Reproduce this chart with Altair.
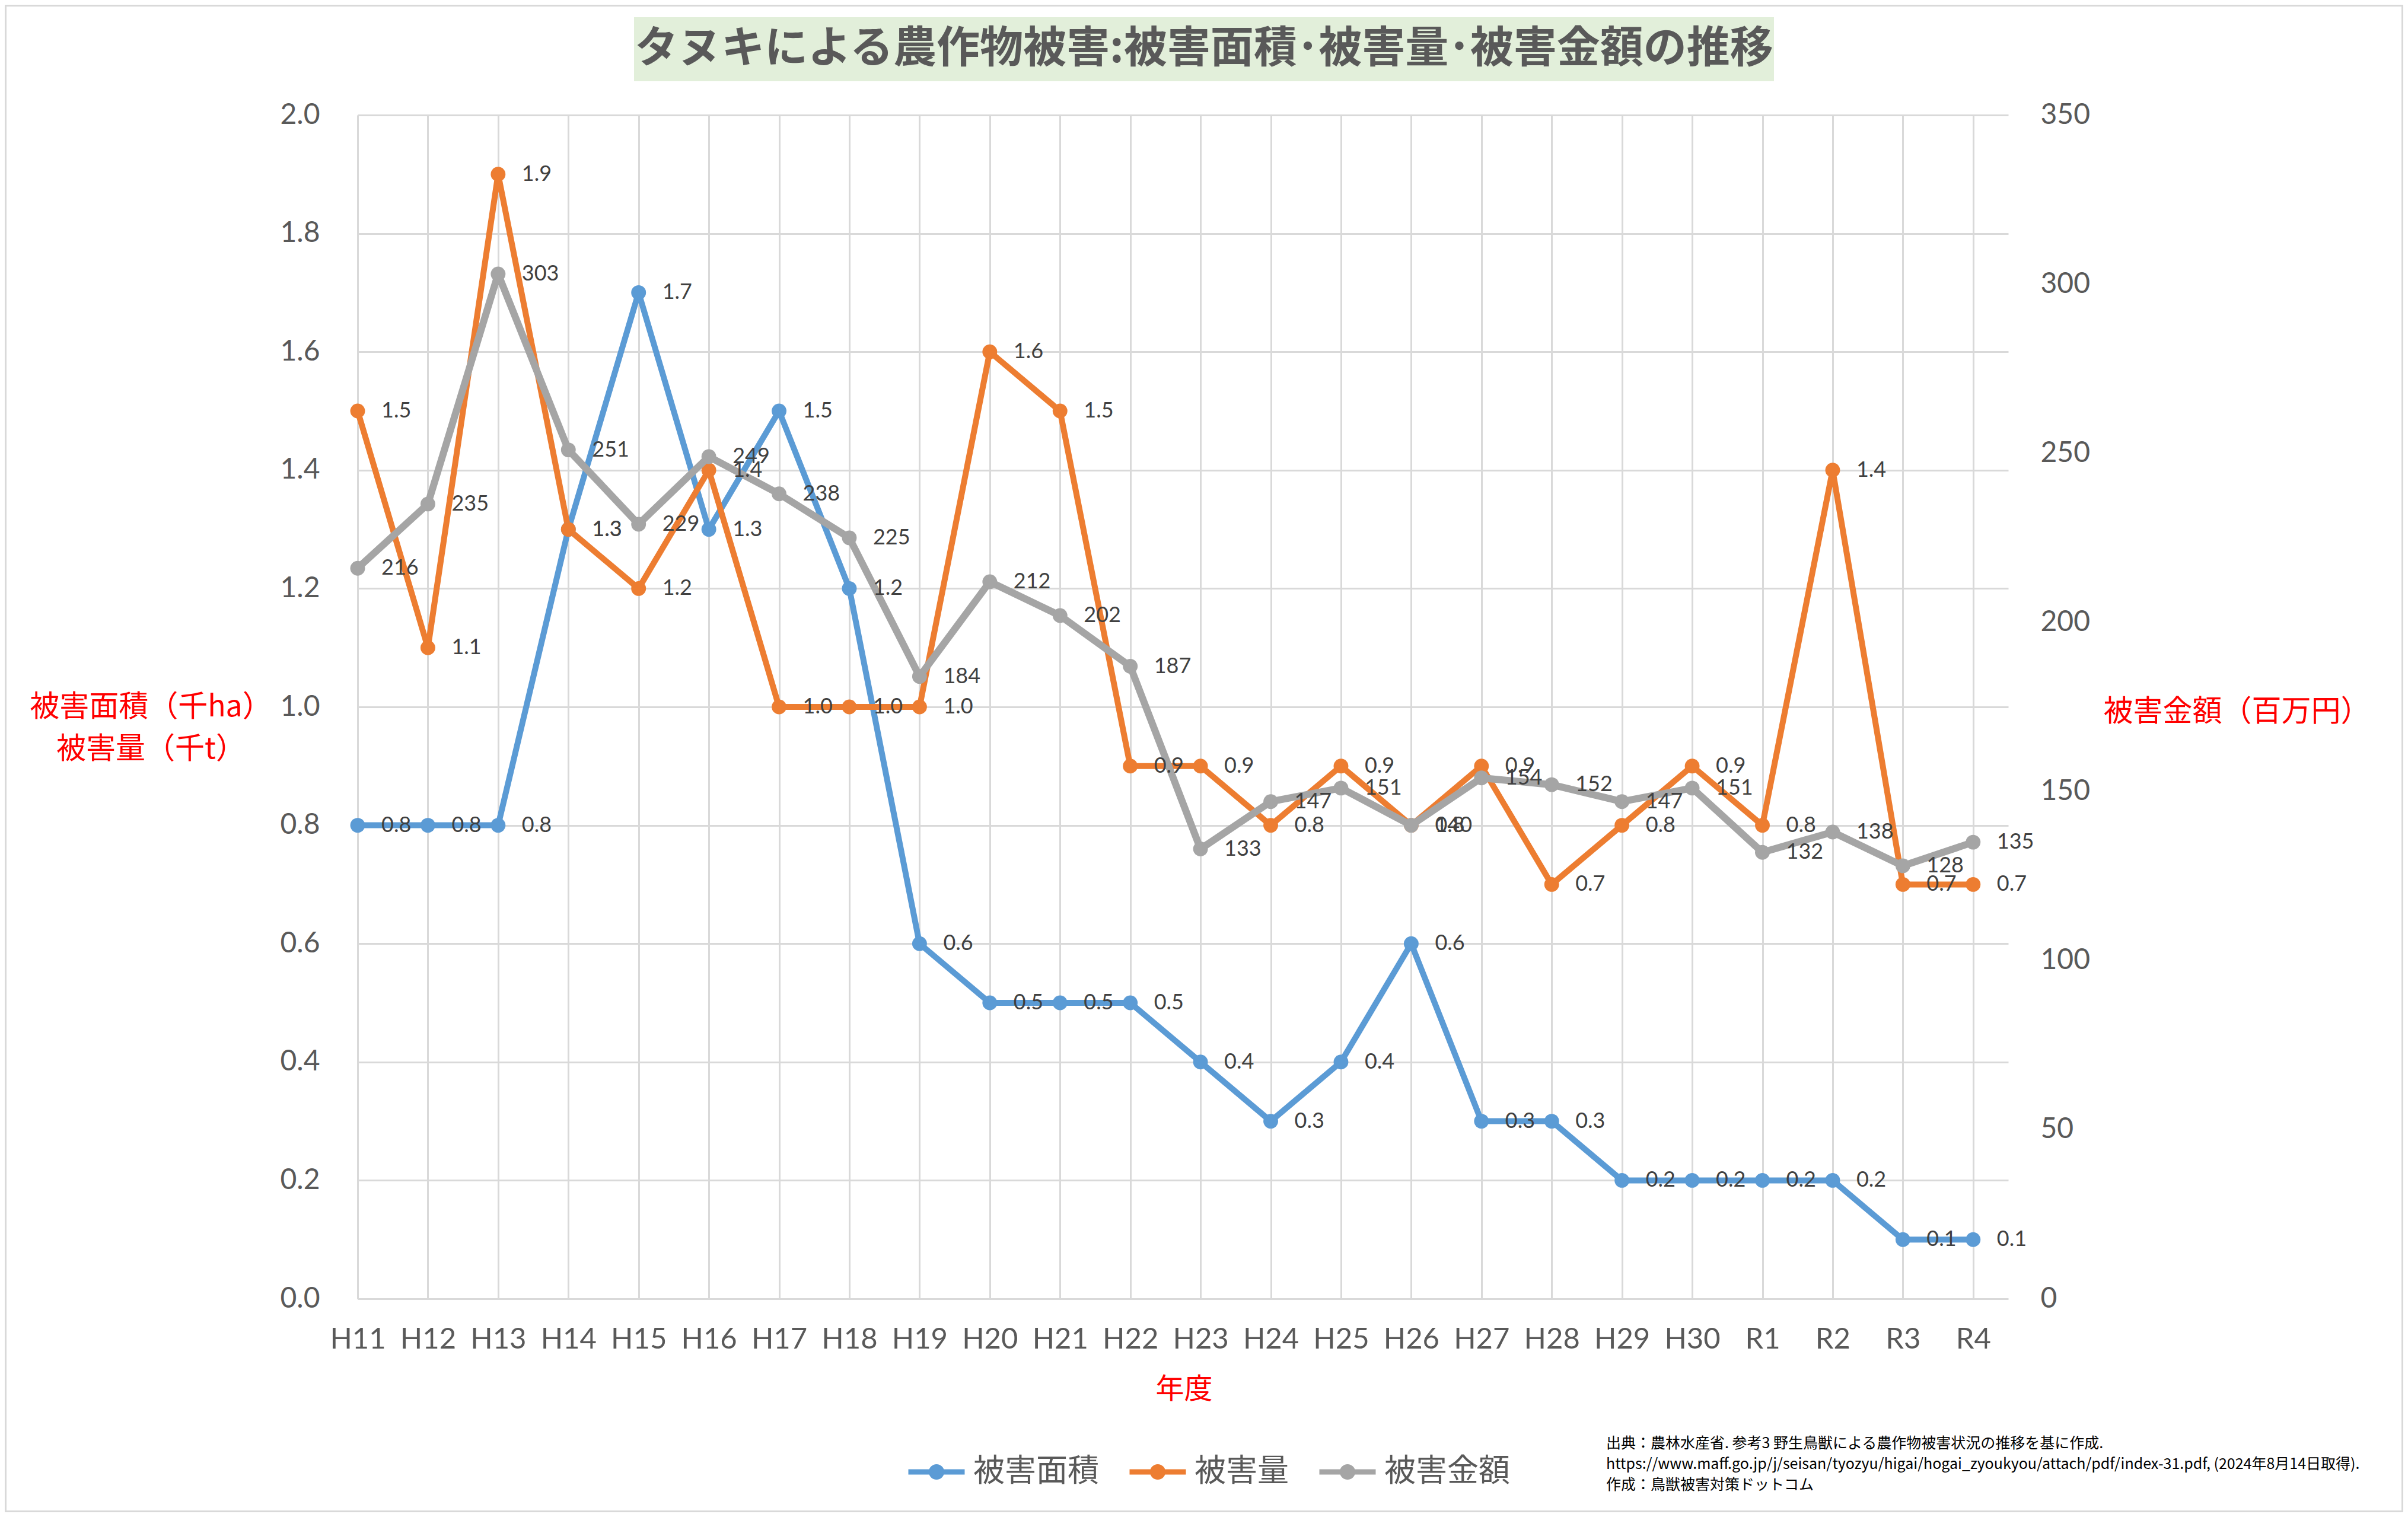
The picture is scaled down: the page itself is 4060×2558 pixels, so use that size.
import json
import altair as alt
import pandas as pd

# ---------------- data ----------------
years = ["H11", "H12", "H13", "H14", "H15", "H16", "H17", "H18", "H19", "H20",
         "H21", "H22", "H23", "H24", "H25", "H26", "H27", "H28", "H29", "H30",
         "R1", "R2", "R3", "R4"]
area = [0.8, 0.8, 0.8, 1.3, 1.7, 1.3, 1.5, 1.2, 0.6, 0.5, 0.5, 0.5,
        0.4, 0.3, 0.4, 0.6, 0.3, 0.3, 0.2, 0.2, 0.2, 0.2, 0.1, 0.1]
amount = [1.5, 1.1, 1.9, 1.3, 1.2, 1.4, 1.0, 1.0, 1.0, 1.6, 1.5, 0.9,
          0.9, 0.8, 0.9, 0.8, 0.9, 0.7, 0.8, 0.9, 0.8, 1.4, 0.7, 0.7]
money = [216, 235, 303, 251, 229, 249, 238, 225, 184, 212, 202, 187,
         133, 147, 151, 140, 154, 152, 147, 151, 132, 138, 128, 135]
series = ["被害面積", "被害量", "被害金額"]
colors = ["#5b9bd5", "#ed7d31", "#a5a5a5"]
left_ticks = [0.0, 0.2, 0.4, 0.6, 0.8, 1.0, 1.2, 1.4, 1.6, 1.8, 2.0]
right_ticks = [0, 50, 100, 150, 200, 250, 300, 350]

title_text = "タヌキによる農作物被害:被害面積･被害量･被害金額の推移"
left_title = ["被害面積（千ha）", "被害量（千t）"]
right_title = "被害金額（百万円）"
x_title = "年度"
source_lines = [
    "出典：農林水産省. 参考3 野生鳥獣による農作物被害状況の推移を基に作成.",
    "https://www.maff.go.jp/j/seisan/tyozyu/higai/hogai_zyoukyou/attach/pdf/index-31.pdf, (2024年8月14日取得).",
    "作成：鳥獣被害対策ドットコム",
]

rows_left = []
for i, y in enumerate(years):
    rows_left.append({"idx": i, "year": y, "series": series[0], "value": area[i]})
for i, y in enumerate(years):
    rows_left.append({"idx": i, "year": y, "series": series[1], "value": amount[i]})
df_left = pd.DataFrame(rows_left)
df_right = pd.DataFrame({"idx": list(range(len(years))), "year": years,
                         "series": series[2], "value": money})
df_one = pd.DataFrame({"a": [0]})

# ---------------- layout ----------------
W, H = 2783, 1996
PAD_L, PAD_T = 595, 186
TOTAL_W, TOTAL_H = 4044, 2542

CJK = "Noto Sans CJK JP"
NUM = "Lato"
GRID = "#d9d9d9"
TXT = "#595959"
RED = "#ff0000"

x_scale = alt.Scale(domain=[0, 23.5], nice=False, zero=False)
x_axis = alt.Axis(
    values=list(range(len(years))),
    labelExpr=json.dumps(years) + "[datum.value]",
    grid=True, gridColor=GRID, gridWidth=3,
    ticks=False, domain=False,
    labelFont=NUM, labelFontSize=49, labelColor=TXT, labelPadding=44,
    labelFlush=False, labelOverlap=False,
    title=x_title, titleFont=CJK, titleFontSize=48, titleFontWeight="normal",
    titleColor=RED, titleX=1393, titleY=153, titleAlign="center",
    titleBaseline="middle",
)
x_enc = alt.X("idx:Q", scale=x_scale, axis=x_axis)

y_left = alt.Y(
    "value:Q",
    scale=alt.Scale(domain=[0, 2], nice=False, zero=True),
    axis=alt.Axis(
        orient="left", values=left_ticks, format=".1f",
        grid=True, gridColor=GRID, gridWidth=3, ticks=False, domain=False,
        labelFont=NUM, labelFontSize=48, labelColor=TXT, labelPadding=64,
        title=left_title, titleFont=CJK, titleFontSize=50, titleFontWeight="normal",
        titleColor=RED, titleAngle=0, titleX=-349, titleY=998,
        titleAlign="center", titleBaseline="middle", titleLineHeight=71,
    ),
)
y_left_plain = alt.Y("value:Q", scale=alt.Scale(domain=[0, 2], nice=False), axis=None)

y_right = alt.Y(
    "value:Q",
    scale=alt.Scale(domain=[0, 350], nice=False, zero=True),
    axis=alt.Axis(
        orient="right", values=right_ticks, format="d",
        grid=False, ticks=False, domain=False,
        labelFont=NUM, labelFontSize=48, labelColor=TXT, labelPadding=54,
        title=right_title, titleFont=CJK, titleFontSize=50, titleFontWeight="normal",
        titleColor=RED, titleAngle=0, titleX=385, titleY=1006,
        titleAlign="center", titleBaseline="middle",
    ),
)
y_right_plain = alt.Y("value:Q", scale=alt.Scale(domain=[0, 350], nice=False), axis=None)

legend_symbol = ("M-1,0L1,0"
                 "M-0.18,0A0.18,0.18 0 1 1 0.18,0A0.18,0.18 0 1 1 -0.18,0"
                 "M-0.08,0A0.08,0.08 0 1 1 0.08,0A0.08,0.08 0 1 1 -0.08,0")
legend = alt.Legend(
    title=None, orient="none", legendX=924, legendY=2236, direction="horizontal",
    symbolType=legend_symbol, symbolSize=9025, symbolStrokeWidth=9,
    labelFont=CJK, labelFontSize=53, labelColor=TXT, labelOffset=10, labelLimit=500,
    columnPadding=33, padding=0,
)
color = alt.Color("series:N", scale=alt.Scale(domain=series, range=colors), legend=legend)

# ---------------- decorative layers ----------------
border = alt.Chart(df_one).mark_rect(fillOpacity=0, stroke=GRID, strokeWidth=3).encode(
    x=alt.value(-PAD_L + 1.5), x2=alt.value(TOTAL_W - PAD_L - 1.5),
    y=alt.value(-PAD_T + 1.5), y2=alt.value(TOTAL_H - PAD_T - 1.5),
)
title_box = alt.Chart(df_one).mark_rect(fill="#e2efda").encode(
    x=alt.value(466), x2=alt.value(2388), y=alt.value(-165), y2=alt.value(-57),
)
title_mark = alt.Chart(df_one).mark_text(
    font=CJK, fontSize=73, fontWeight="bold", color=TXT, align="center", baseline="middle",
).encode(x=alt.value(1427), y=alt.value(-111), text=alt.value(title_text))
source_mark = alt.Chart(df_one).mark_text(
    font=CJK, fontSize=25, color="#000000", align="left", baseline="middle", lineHeight=35,
).encode(x=alt.value(2105), y=alt.value(2240), text=alt.value(source_lines))

# ---------------- data layers ----------------
left_lines = alt.Chart(df_left).mark_line(
    strokeWidth=10, strokeJoin="round", strokeCap="round",
    point=alt.OverlayMarkDef(filled=True, size=620),
).encode(x=x_enc, y=y_left, color=color, detail="series:N")

right_lines = alt.Chart(df_right).mark_line(
    strokeWidth=12, strokeJoin="round", strokeCap="round",
    point=alt.OverlayMarkDef(filled=True, size=620),
).encode(x=x_enc, y=y_right, color=color)

left_text = alt.Chart(df_left).mark_text(
    align="left", baseline="middle", dx=40, font=NUM, fontSize=36, color="#404040",
).encode(x=x_enc, y=y_left_plain, text=alt.Text("value:Q", format=".1f"))

right_text = alt.Chart(df_right).mark_text(
    align="left", baseline="middle", dx=40, font=NUM, fontSize=36, color="#404040",
).encode(x=x_enc, y=y_right_plain, text=alt.Text("value:Q", format="d"))

chart = alt.layer(
    left_lines, right_lines, left_text, right_text,
    border, title_box, title_mark, source_mark,
).resolve_scale(y="independent").properties(
    width=W, height=H,
    autosize=alt.AutoSizeParams(type="none"),
    padding={"left": PAD_L, "top": PAD_T, "right": TOTAL_W - PAD_L - W, "bottom": TOTAL_H - PAD_T - H},
    background="white",
).configure_view(strokeWidth=0)

chart.save("out.html", embed_options={"renderer": "svg", "actions": False})
